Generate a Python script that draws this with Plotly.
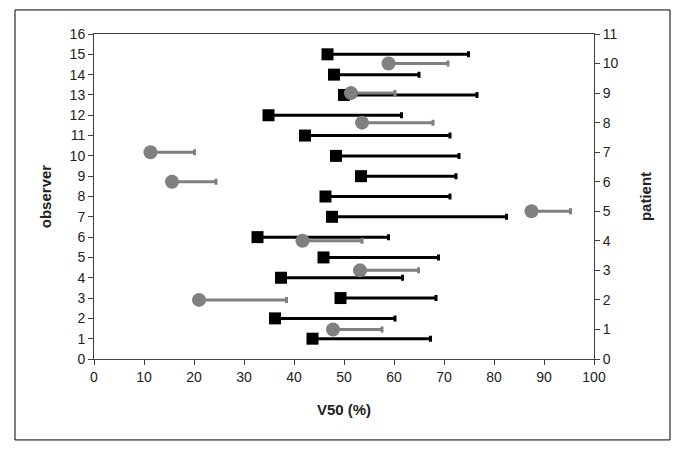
import plotly.graph_objects as go

observer_ids = list(range(1, 16))
observer_v50 = [43.7, 36.2, 49.3, 37.4, 45.9, 32.7, 47.6, 46.3, 53.4, 48.4, 42.2, 34.9, 50.0, 48.0, 46.7]
observer_upper = [67.3, 60.2, 68.4, 61.7, 68.9, 58.9, 82.5, 71.2, 72.4, 73.0, 71.2, 61.5, 76.6, 65.0, 74.9]

patient_ids = list(range(1, 11))
patient_v50 = [47.8, 21.0, 53.2, 41.7, 87.5, 15.6, 11.3, 53.6, 51.4, 58.9]
patient_upper = [57.6, 38.5, 64.9, 53.6, 95.3, 24.4, 20.1, 67.8, 60.2, 70.8]

x_ticks = list(range(0, 101, 10))
obs_ticks = list(range(0, 17))
pat_ticks = list(range(0, 12))

obs_plus = [u - v for u, v in zip(observer_upper, observer_v50)]
pat_plus = [u - v for u, v in zip(patient_upper, patient_v50)]

FONT = "Liberation Sans, Arial, sans-serif"

fig = go.Figure()
fig.add_trace(go.Scatter(
    x=observer_v50, y=observer_ids, mode="markers",
    marker=dict(symbol="square", size=12, color="black"),
    error_x=dict(type="data", symmetric=False, array=obs_plus,
                 arrayminus=[0] * len(obs_plus), color="black",
                 thickness=3, width=3),
    yaxis="y", showlegend=False,
))
fig.add_trace(go.Scatter(
    x=patient_v50, y=patient_ids, mode="markers",
    marker=dict(symbol="circle", size=14, color="#808080"),
    error_x=dict(type="data", symmetric=False, array=pat_plus,
                 arrayminus=[0] * len(pat_plus), color="#808080",
                 thickness=3, width=3),
    yaxis="y2", showlegend=False,
))

def axis_common(ticks):
    return dict(showgrid=False, zeroline=False, showline=True,
                linecolor="#404040", linewidth=1, ticks=ticks,
                ticklen=5, tickcolor="#404040",
                tickfont=dict(family=FONT, size=14, color="#222"))

fig.update_layout(
    width=677, height=442,
    margin=dict(l=86, r=91, t=26, b=91),
    paper_bgcolor="white", plot_bgcolor="white",
    xaxis=dict(range=[0, 100], tickvals=x_ticks, mirror=True,
               title=dict(text="<b>V50 (%)</b>", font=dict(family=FONT, size=15, color="#222"), standoff=20),
               **axis_common("outside")),
    yaxis=dict(range=[0, 16], tickvals=obs_ticks,
               title=dict(text="<b>observer</b>", font=dict(family=FONT, size=15, color="#222"), standoff=14),
               **axis_common("outside")),
    yaxis2=dict(range=[0, 11], tickvals=pat_ticks, overlaying="y", side="right",
                title=dict(text="<b>patient</b>", font=dict(family=FONT, size=15, color="#222"), standoff=22),
                **axis_common("outside")),
    shapes=[dict(type="rect", xref="paper", yref="paper",
                 x0=-0.158, x1=1.152, y0=-0.249, y1=1.074,
                 line=dict(color="black", width=1), fillcolor="rgba(0,0,0,0)")],
)

fig.write_html("out.html")
